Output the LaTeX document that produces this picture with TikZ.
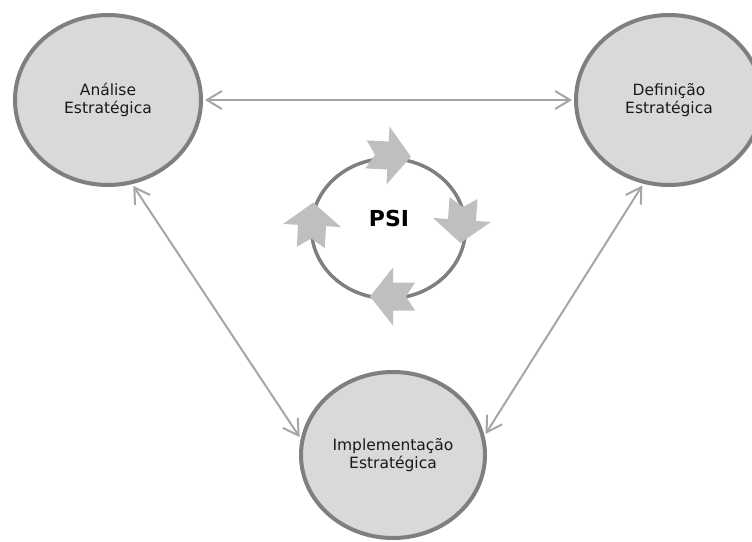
\documentclass[tikz,border=0pt]{standalone}
\usepackage{fontspec}
\setmainfont{DejaVu Sans}
\usetikzlibrary{shapes.geometric,arrows.meta}
\definecolor{rim}{HTML}{7F7F7F}
\definecolor{disk}{HTML}{D9D9D9}
\definecolor{linkgray}{HTML}{A6A6A6}
\definecolor{chev}{HTML}{BFBFBF}
\begin{document}
\begin{tikzpicture}[x=1pt,y=-1pt,
  phase/.style={ellipse, draw=rim, fill=disk, line width=4pt, minimum width=186pt, minimum height=170pt, inner sep=0pt, align=center, font=\fontsize{15.5}{18.5}\selectfont, text=black!90},
  linkline/.style={draw=linkgray, line width=2pt, {Straight Barb[length=15pt,width=18pt]}-{Straight Barb[length=15pt,width=18pt]}, shorten <=2pt, shorten >=2pt},
  chevron/.pic={\fill[chev] (-22pt,14pt) -- (0pt,14pt) -- (0pt,29pt) -- (23pt,0pt) -- (0pt,-29pt) -- (0pt,-14pt) -- (-22pt,-14pt) -- (-13pt,0pt) -- cycle;}
]
\clip (0,0) rectangle (752,541);
\node[phase] (A) at (108,100) {Análise\\Estratégica};
\node[phase] (D) at (669,100) {Definição\\Estratégica};
\node[phase, minimum width=184pt, minimum height=166pt] (I) at (393,455) {Implementação\\Estratégica};
\draw[linkline] (A.0) -- (D.180);
\draw[linkline] (A.-74) -- (I.170);
\draw[linkline] (D.-107) -- (I.12);
\node[ellipse, draw=rim, line width=3.5pt, minimum width=154pt, minimum height=140pt, inner sep=0pt] (ring) at (388.5,228.5) {};
\pic[rotate=-3] at (388,155.5) {chevron};
\pic[rotate=-94] at (462,220) {chevron};
\pic[rotate=180] at (393,296.5) {chevron};
\pic[rotate=87] at (312,225.5) {chevron};
\node[font=\bfseries\fontsize{22}{26}\selectfont] (psi) at (389,218) {PSI};
\end{tikzpicture}
\end{document}
